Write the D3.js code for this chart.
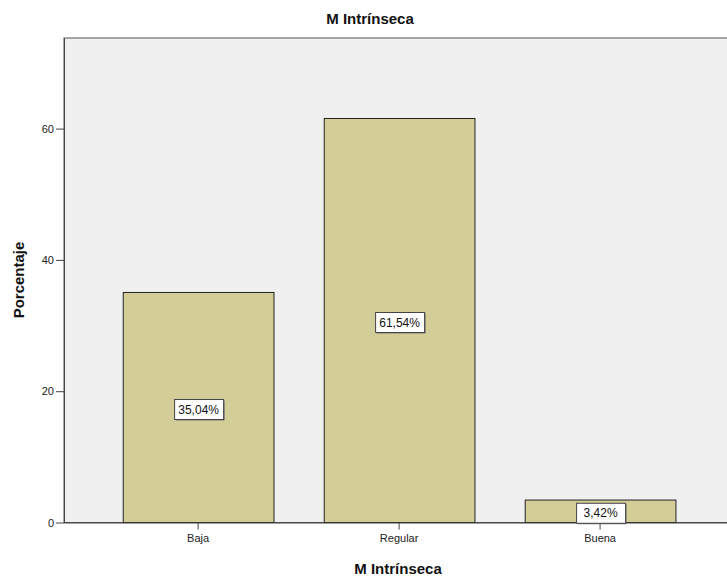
<!DOCTYPE html>
<html><head><meta charset="utf-8">
<script src="https://cdn.jsdelivr.net/npm/d3@7"></script>
<style>body{margin:0;background:#fff}svg{display:block;font-family:"Liberation Sans",Arial,sans-serif}</style>
</head><body><svg id="c" width="727" height="577"></svg>
<script>
const categories = ["Baja", "Regular", "Buena"];
const values = [35.04, 61.54, 3.42];
const labels = ["35,04%", "61,54%", "3,42%"];
const yTicks = [0, 20, 40, 60];

const svg = d3.select("#c");
const L = 64, T = 38, B = 522.5, R = 740;
const y = d3.scaleLinear().domain([0, 73.8]).range([B, T]);
const x = d3.scaleBand().domain(categories).range([72.5, 725.7]).paddingInner(0.25).paddingOuter(0.25);

svg.append("rect").attr("x", L).attr("y", T).attr("width", R - L).attr("height", B - T)
  .attr("fill", "#f0f0f0").attr("stroke", "#555").attr("stroke-width", 1);

svg.append("g").selectAll("rect").data(values).join("rect")
  .attr("x", (d, i) => x(categories[i]) + 0.5)
  .attr("y", d => y(d))
  .attr("width", x.bandwidth())
  .attr("height", d => B - y(d))
  .attr("fill", "#d3ce98").attr("stroke", "#222").attr("stroke-width", 1);

// y axis
const ya = svg.append("g").attr("transform", `translate(${L},0)`)
  .call(d3.axisLeft(y).tickValues(yTicks).tickSize(8).tickSizeOuter(0).tickPadding(2).tickFormat(d3.format("d")));
ya.select(".domain").attr("stroke", "#444");
ya.selectAll(".tick line").attr("stroke", "#444");
ya.selectAll("text").attr("font-size", 11).attr("fill", "#222").attr("font-family", "Liberation Sans, Arial, sans-serif");

// x axis
const xa = svg.append("g").attr("transform", `translate(0,${B})`)
  .call(d3.axisBottom(x).tickSize(7).tickPadding(5).tickSizeOuter(0));
xa.select(".domain").attr("d", `M${L},0.5H${R}`).attr("stroke", "#444");
xa.selectAll(".tick line").attr("stroke", "#444");
xa.selectAll("text").attr("font-size", 11).attr("fill", "#222").attr("font-family", "Liberation Sans, Arial, sans-serif");

// value labels
const lg = svg.append("g").selectAll("g").data(values).join("g")
  .attr("transform", (d, i) => `translate(${x(categories[i]) + x.bandwidth() / 2 + 0.5},${y(d / 2) + 2})`);
lg.append("rect").attr("x", -24).attr("y", -10).attr("width", 49).attr("height", 20)
  .attr("fill", "#777").attr("transform", "translate(1,1)");
lg.append("rect").attr("x", -24).attr("y", -10).attr("width", 49).attr("height", 20)
  .attr("fill", "#fff").attr("stroke", "#444").attr("stroke-width", 1);
lg.append("text").attr("text-anchor", "middle").attr("dy", "0.35em")
  .attr("font-size", 12).attr("fill", "#111").text((d, i) => labels[i]);

// titles
svg.append("text").attr("x", 370).attr("y", 24).attr("text-anchor", "middle")
  .attr("font-size", 15).attr("font-weight", "bold").attr("fill", "#111").text("M Intrínseca");
svg.append("text").attr("x", 398).attr("y", 574).attr("text-anchor", "middle")
  .attr("font-size", 15).attr("font-weight", "bold").attr("fill", "#111").text("M Intrínseca");
svg.append("text").attr("transform", "translate(24,280) rotate(-90)").attr("text-anchor", "middle")
  .attr("font-size", 15).attr("font-weight", "bold").attr("fill", "#111").text("Porcentaje");
</script></body></html>
